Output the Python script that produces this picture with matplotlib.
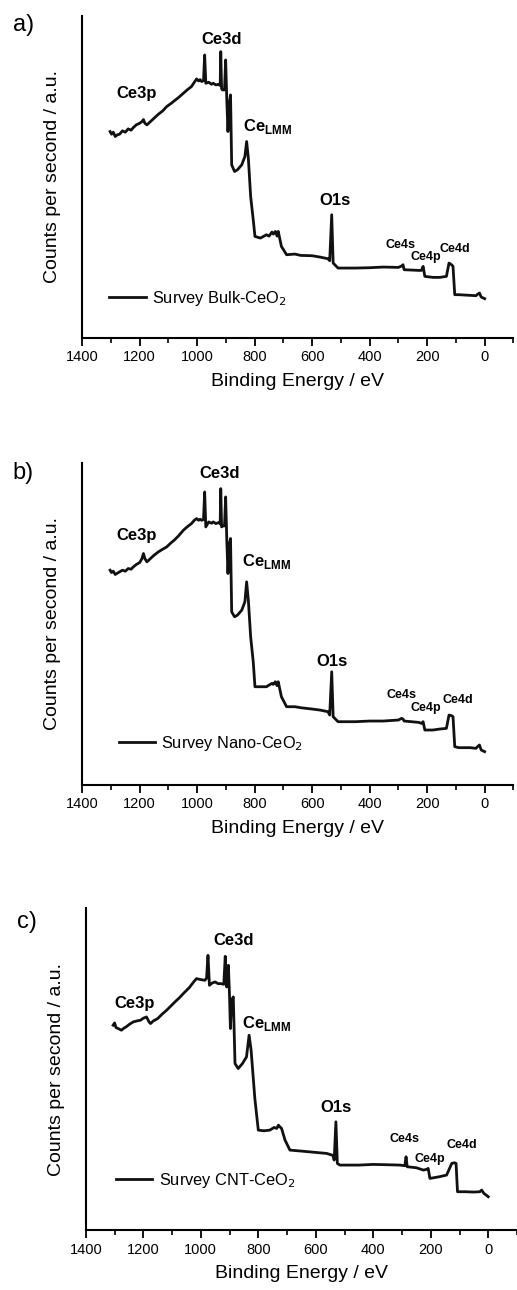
import numpy as np
import matplotlib
matplotlib.use("Agg")
import matplotlib.pyplot as plt
from matplotlib.ticker import MultipleLocator, NullLocator

plt.rcParams['font.family'] = ['Liberation Sans', 'DejaVu Sans']

# binding energy (eV) / counts (a.u.)
energy_a = [1303, 1298, 1292, 1285, 1278, 1270, 1260, 1250, 1240, 1230, 1222, 1212, 1200, 1192, 1187,
            1182, 1175, 1165, 1150, 1135, 1120, 1106, 1090, 1080, 1065, 1048, 1035, 1020, 1010,
            1002, 995, 990, 984, 978, 974, 970, 960, 950, 944, 935, 925, 920, 918, 915, 912, 905,
            901, 897, 893, 889, 884, 880, 870, 860, 845, 834, 828, 822, 814, 805, 799, 780, 759,
            750, 740, 735, 728, 722, 718, 707, 689, 660, 640, 600, 573, 545,
            539, 532, 527, 510, 450, 400, 353, 300, 289, 284, 280, 230, 220, 214, 208, 180, 156,
            133, 124, 115, 110, 104, 90, 50, 30, 25, 18, 12, 0]
counts_a = [620, 612, 618, 605, 610, 612, 622, 618, 628, 624, 632, 640, 645, 650, 656,
            645, 640, 648, 660, 672, 682, 695, 705, 712, 722, 735, 745, 755, 768,
            778, 772, 776, 770, 773, 850, 765, 768, 762, 765, 760, 762, 758, 860, 748, 745, 745,
            835, 715, 620, 700, 730, 520, 500, 505, 520, 545, 590, 540, 425, 355, 305, 300, 310,
            306, 318, 312, 320, 306, 320, 275, 250, 252, 248, 247, 243, 238,
            232, 370, 225, 210, 210, 211, 213, 212, 216, 220, 205, 203, 203, 215, 185, 182, 182,
            185, 225, 220, 215, 130, 130, 128, 127, 131, 135, 123, 118]

energy_b = [1303, 1298, 1292, 1285, 1278, 1270, 1260, 1250, 1240, 1230, 1222, 1212, 1200, 1192, 1187,
            1182, 1175, 1165, 1150, 1135, 1120, 1106, 1090, 1080, 1065, 1048, 1035, 1020, 1010,
            1002, 995, 990, 984, 978, 974, 970, 960, 950, 944, 935, 925, 920, 918, 915, 912, 905,
            901, 897, 893, 889, 884, 880, 870, 860, 845, 834, 828, 822, 814, 805, 799, 780, 759,
            750, 740, 735, 728, 722, 718, 707, 689, 660, 640, 600, 573, 545,
            539, 532, 527, 510, 450, 400, 353, 300, 289, 284, 280, 230, 220, 214, 208, 180, 156,
            133, 124, 115, 110, 104, 90, 50, 30, 25, 18, 12, 0]
counts_b = [645, 638, 642, 632, 636, 640, 645, 642, 650, 648, 655, 662, 668, 680, 695,
            680, 670, 678, 690, 700, 708, 715, 728, 735, 748, 765, 775, 785, 795,
            800, 795, 798, 795, 797, 880, 775, 790, 786, 790, 785, 788, 784, 890, 775, 778, 778,
            865, 735, 635, 720, 740, 520, 505, 510, 525, 550, 610, 555, 445, 370, 295, 295, 295,
            300, 305, 302, 310, 298, 310, 265, 235, 235, 232, 228, 225, 220,
            210, 340, 205, 190, 190, 192, 192, 195, 200, 198, 192, 188, 185, 190, 165, 165, 168,
            170, 210, 208, 205, 115, 112, 112, 110, 115, 120, 105, 100]

energy_c = [1305, 1300, 1295, 1285, 1276, 1268, 1260, 1248, 1235, 1222, 1210, 1200, 1189, 1180, 1175,
            1165, 1150, 1135, 1119, 1105, 1090, 1075, 1061, 1040, 1025, 1015,
            1000, 986, 980, 975, 970, 960, 950, 940, 930, 920, 915, 910, 904, 900, 897, 893, 887,
            881, 870, 855, 841, 832, 825, 812, 800, 780, 760, 745, 736, 730, 725, 719, 707, 690,
            650, 600, 562, 540, 536, 530, 525, 516, 450, 400, 350, 307, 290, 286, 282, 250, 226,
            215, 209, 203, 170, 145, 127, 118, 112, 107, 80, 50, 29, 23, 15, 0]
counts_c = [615, 622, 608, 604, 600, 606, 610, 618, 625, 628, 630, 636, 640, 625, 620,
            628, 635, 648, 660, 672, 685, 697, 710, 728, 745, 755,
            752, 750, 756, 825, 735, 742, 745, 740, 740, 738, 822, 730, 795, 700, 605, 690, 700,
            500, 485, 500, 520, 585, 540, 395, 300, 298, 300, 308, 305, 315, 310, 305, 270, 240,
            237, 233, 230, 224, 210, 325, 200, 195, 195, 197, 196, 195, 193, 220, 190, 187, 180,
            182, 185, 155, 160, 165, 200, 202, 200, 115, 115, 114, 115, 120, 110, 100]

legend_labels = ["Survey Bulk-CeO$_2$", "Survey Nano-CeO$_2$", "Survey CNT-CeO$_2$"]
panel_tags = ["a)", "b)", "c)"]
peak_names = ["Ce3p", "Ce3d", "Ce$_{\\mathregular{LMM}}$", "O1s", "Ce4s", "Ce4p", "Ce4d"]

series = [(energy_a, counts_a), (energy_b, counts_b), (energy_c, counts_c)]

# peak label positions per panel (energy, counts) - label centres, CeLMM is left-anchored
label_pos = [
    [(1210, 735), (915, 897), (842, 635), (521, 412), (292, 280), (206, 243), (104, 267)],
    [(1210, 750), (923, 935), (845, 670), (530, 370), (290, 270), (205, 230), (95, 255)],
    [(1229, 680), (887, 870), (855, 620), (530, 368), (290, 272), (203, 212), (93, 255)],
]
big = [True, True, True, True, False, False, False]

# axes rectangles (left, bottom, width, height) in figure fraction
rects = [(0.159, 0.738, 0.834, 0.2496),
         (0.159, 0.3915, 0.834, 0.2496),
         (0.166, 0.0465, 0.834, 0.2496)]
tag_pos = [(0.025, 0.981), (0.025, 0.633), (0.033, 0.285)]
legend_anchor = [(0.029, 0.124), (0.05, 0.13), (0.036, 0.155)]

fig = plt.figure(figsize=(5.17, 12.9), dpi=100)

for i in range(3):
    ax = fig.add_axes(rects[i])
    e, c = series[i]
    ax.plot(e, c, color="#111111", lw=2.0, label=legend_labels[i])
    ax.set_xlim(1400, -100)
    ax.set_ylim(0, 967)
    ax.xaxis.set_minor_locator(MultipleLocator(100))
    ax.set_xticks([1400, 1200, 1000, 800, 600, 400, 200, 0])
    ax.yaxis.set_major_locator(NullLocator())
    ax.spines["top"].set_visible(False)
    ax.spines["right"].set_visible(False)
    ax.spines["left"].set_linewidth(1.5)
    ax.spines["bottom"].set_linewidth(1.5)
    ax.tick_params(axis="x", which="major", direction="out", length=6, width=1.3, labelsize=10.5, pad=3)
    ax.tick_params(axis="x", which="minor", direction="out", length=3.5, width=1.2)
    ax.set_xlabel("Binding Energy / eV", fontsize=14, labelpad=6)
    ax.set_ylabel("Counts per second / a.u.", fontsize=14, labelpad=15)

    for name, (x, y), b in zip(peak_names, label_pos[i], big):
        ha = "left" if "LMM" in name else "center"
        size = 12 if b else 9
        ax.text(x, y, name, fontsize=size, fontweight="bold", ha=ha, va="center")

    ax.legend(loc="center left", bbox_to_anchor=legend_anchor[i], frameon=False, fontsize=11.8,
              handlelength=2.2, handletextpad=0.4)
    fig.text(tag_pos[i][0], tag_pos[i][1], panel_tags[i], fontsize=17, va="center")

fig.savefig("out.png", dpi=100)
